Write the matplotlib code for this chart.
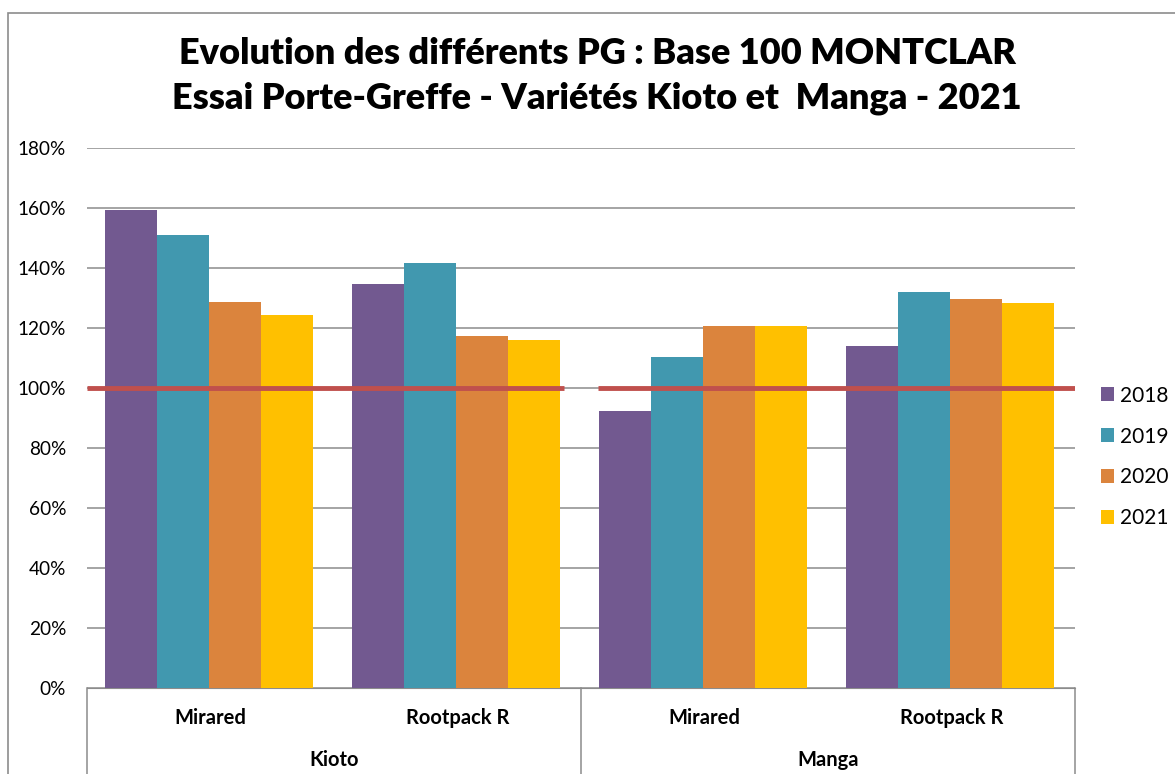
import matplotlib
matplotlib.use("Agg")
import matplotlib.pyplot as plt
from matplotlib.ticker import PercentFormatter, MultipleLocator
from matplotlib.patches import Rectangle
from matplotlib.lines import Line2D
import numpy as np

plt.rcParams['font.family'] = ['Lato', 'DejaVu Sans']

varieties = ["Kioto", "Manga"]
rootstocks = ["Mirared", "Rootpack R", "Mirared", "Rootpack R"]
years = ["2018", "2019", "2020", "2021"]
v2018 = [1.593, 1.348, 0.922, 1.140]
v2019 = [1.509, 1.417, 1.102, 1.320]
v2020 = [1.287, 1.173, 1.207, 1.297]
v2021 = [1.243, 1.160, 1.207, 1.282]
base = 1.0
colors = ["#725990", "#4198AF", "#DB843D", "#FFC000"]
title = "Evolution des différents PG : Base 100 MONTCLAR\nEssai Porte-Greffe - Variétés Kioto et  Manga - 2021"

fig = plt.figure(figsize=(11.75, 7.74), dpi=100)
ax = fig.add_axes([87/1175, 86/774, (1075-87)/1175, (688-148)/774])

x = np.arange(len(rootstocks))
series = [v2018, v2019, v2020, v2021]
w = 0.21
for i, (vals, c, yr) in enumerate(zip(series, colors, years)):
    ax.bar(x + (i - 1.5) * w - 0.006, vals, width=w, color=c, label=yr, zorder=3)

# base 100 reference line (two segments, one per variety)
ax.plot([-0.5, 1.43], [base, base], color="#C0504D", lw=3.5, zorder=4, solid_capstyle='butt')
ax.plot([1.57, 3.5], [base, base], color="#C0504D", lw=3.5, zorder=4, solid_capstyle='butt')

ax.set_xlim(-0.5, 3.5)
ax.set_ylim(0, 1.8)
ax.yaxis.set_major_locator(MultipleLocator(0.2))
ax.yaxis.set_major_formatter(PercentFormatter(1.0, decimals=0))
ax.grid(axis='y', color='#8c8c8c', lw=1.1, zorder=0)
ax.set_axisbelow(True)
for s in ['top', 'right', 'left']:
    ax.spines[s].set_visible(False)
ax.spines['bottom'].set_color('#8c8c8c')
ax.tick_params(axis='y', length=0, labelsize=13.7, pad=15)
ax.tick_params(axis='x', length=0, labelbottom=False)

# category axis box
trans = ax.get_xaxis_transform()
for xv in [-0.5, 1.5, 3.5]:
    ax.add_line(Line2D([xv, xv], [0, -0.2], transform=trans, color='#8c8c8c', lw=1.1, clip_on=False))
for xi, lab in zip(x, rootstocks):
    ax.text(xi, -0.055, lab, transform=trans, ha='center', va='center', fontsize=14.5, fontweight='bold')
for k, lab in enumerate(varieties):
    ax.text(0.5 + 2 * k, -0.134, lab, transform=trans, ha='center', va='center', fontsize=14.5, fontweight='bold')

fig.text(597/1175, 1 - 76/774, title, ha='center', va='center', fontsize=26, fontweight='heavy', linespacing=1.45)

leg = fig.legend(loc='center left', bbox_to_anchor=(1084/1175, 1 - 457/774), frameon=False,
                 fontsize=15, handlelength=0.65, handleheight=0.65, labelspacing=1.0, handletextpad=0.3,
                 borderpad=0.3)

fig.add_artist(Rectangle((8/1175, -0.1), 1.2, 1 - 13/774 + 0.1, transform=fig.transFigure,
                         fill=False, edgecolor='#8c8c8c', lw=1.2))

fig.savefig("out.png", dpi=100)
